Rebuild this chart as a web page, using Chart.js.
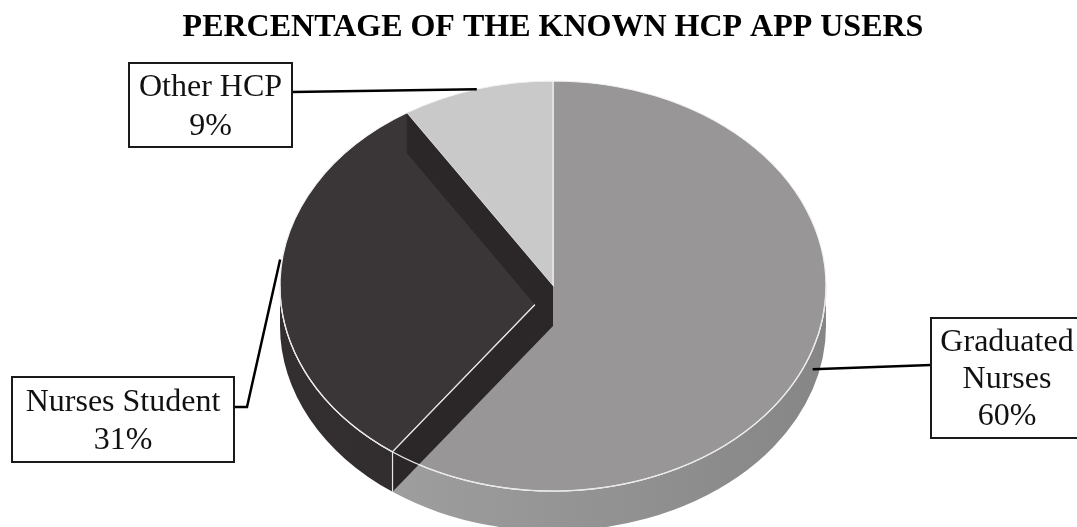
<!DOCTYPE html>
<html><head><meta charset="utf-8">
<script src="https://cdn.jsdelivr.net/npm/chart.js@4.4.0/dist/chart.umd.min.js"></script>
<style>html,body{margin:0;padding:0;background:#fff;}#wrap{width:1077px;height:527px;}</style>
</head><body><div id="wrap"><canvas id="c" width="1077" height="527"></canvas></div>
<script>
// ---- data ----
const categories = ['Graduated Nurses', 'Nurses Student', 'Other HCP'];
const labelLines = [['Graduated', 'Nurses'], ['Nurses Student'], ['Other HCP']];
const shares = [60, 31, 9];
const titleText = 'PERCENTAGE OF THE KNOWN HCP APP USERS';

// ---- style ----
const topColors = ['#989697', '#3a3537', '#c9c9c9'];
const sideColors = [['#a4a4a4', '#868686'], ['#332f31', '#2c282a'], ['#b5b5b5', '#a5a5a5']];
const wallColor = '#2b2729';
const geom = { cx: 553, cy: 286, rx: 273, ry: 205, depth: 40 };
const boxes = [
  { x: 931, y: 318, w: 152, h: 120, lh: 37, ady: 0, via: [[931, 365]] },
  { x: 12, y: 377, w: 222, h: 85, lh: 38, ady: -20, via: [[247, 407], [234, 407]] },
  { x: 129, y: 63, w: 163, h: 84, lh: 39, ady: 0, via: [[292, 92]] }
];

function rim(a, g) { return [g.cx + g.rx * Math.cos(a), g.cy + g.ry * Math.sin(a)]; }

const pie3d = {
  id: 'pie3d',
  beforeDatasetsDraw(chart) {
    const ctx = chart.ctx, g = geom, D = g.depth;
    const meta = chart.getDatasetMeta(0);
    meta.data.forEach((arc, i) => {
      const s = arc.startAngle, e = arc.endAngle;
      for (let k = -1; k <= 1; k++) {
        const lo = Math.max(s, 2 * Math.PI * k), hi = Math.min(e, 2 * Math.PI * k + Math.PI);
        if (lo < hi) {
          ctx.save();
          ctx.beginPath();
          ctx.ellipse(g.cx, g.cy, g.rx, g.ry, 0, lo, hi, false);
          ctx.ellipse(g.cx, g.cy + D, g.rx, g.ry, 0, hi, lo, true);
          ctx.closePath();
          const gr = ctx.createLinearGradient(g.cx - g.rx, 0, g.cx + g.rx, 0);
          gr.addColorStop(0, sideColors[i][0]);
          gr.addColorStop(1, sideColors[i][1]);
          ctx.fillStyle = gr;
          ctx.fill();
          ctx.restore();
        }
      }
    });
    ctx.save();
    ctx.strokeStyle = '#f4f4f4'; ctx.lineWidth = 1.2;
    ctx.beginPath(); ctx.ellipse(g.cx, g.cy, g.rx, g.ry, 0, 0, Math.PI, false); ctx.stroke();
    ctx.restore();
    const a0 = meta.data[0];
    ctx.save();
    ctx.translate(g.cx, g.cy);
    ctx.scale(g.rx / a0.outerRadius, g.ry / a0.outerRadius);
    ctx.translate(-a0.x, -a0.y);
  },
  afterDatasetsDraw(chart) {
    const ctx = chart.ctx, g = geom, D = g.depth;
    ctx.restore();
    const meta = chart.getDatasetMeta(0);
    meta.data.forEach((arc) => {
      const angs = [arc.startAngle, arc.endAngle];
      if (!angs.every(a => Math.cos(a) < -0.05)) return;
      angs.forEach(a => {
        const p = rim(a, g);
        ctx.save();
        ctx.fillStyle = wallColor;
        ctx.beginPath();
        ctx.moveTo(g.cx, g.cy); ctx.lineTo(p[0], p[1]);
        ctx.lineTo(p[0], p[1] + D); ctx.lineTo(g.cx, g.cy + D);
        ctx.closePath(); ctx.fill();
        if (Math.sin(a) > 0) {
          ctx.strokeStyle = '#e8e8e8'; ctx.lineWidth = 1.2;
          ctx.beginPath();
          ctx.moveTo(g.cx, g.cy); ctx.lineTo(p[0], p[1]); ctx.lineTo(p[0], p[1] + D);
          ctx.stroke();
          ctx.beginPath(); ctx.ellipse(g.cx, g.cy, g.rx, g.ry, 0, 0, Math.PI, false); ctx.stroke();
        }
        ctx.restore();
      });
    });
  },
  afterDraw(chart) {
    const ctx = chart.ctx, g = geom, D = g.depth;
    const meta = chart.getDatasetMeta(0);
    const total = chart.data.datasets[0].data.reduce((a, b) => a + b, 0);
    meta.data.forEach((arc, i) => {
      const b = boxes[i];
      const mid = (arc.startAngle + arc.endAngle) / 2;
      let p = rim(mid, g);
      if (Math.sin(mid) > 0) p = [p[0], p[1] + D / 2];
      p = [p[0], p[1] + b.ady];
      ctx.save();
      ctx.strokeStyle = '#000'; ctx.lineWidth = 2.5; ctx.lineJoin = 'miter';
      ctx.beginPath(); ctx.moveTo(p[0], p[1]);
      b.via.forEach(q => ctx.lineTo(q[0], q[1]));
      ctx.stroke();
      ctx.fillStyle = '#fff';
      ctx.fillRect(b.x, b.y, b.w, b.h);
      ctx.strokeStyle = '#1a1a1a'; ctx.lineWidth = 2;
      ctx.strokeRect(b.x, b.y, b.w, b.h);
      const lines = labelLines[i].concat([Math.round(chart.data.datasets[0].data[i] / total * 100) + '%']);
      ctx.fillStyle = '#111';
      ctx.font = '32px "Liberation Serif"';
      ctx.textAlign = 'center'; ctx.textBaseline = 'middle';
      const cy = b.y + b.h / 2, cx = b.x + b.w / 2;
      lines.forEach((t, j) => ctx.fillText(t, cx, cy + (j - (lines.length - 1) / 2) * b.lh + 2));
      ctx.restore();
    });
  }
};

new Chart(document.getElementById('c'), {
  type: 'pie',
  data: {
    labels: categories,
    datasets: [{
      data: shares,
      backgroundColor: topColors,
      borderColor: '#f2f2f2',
      borderWidth: 1,
      clip: false
    }]
  },
  options: {
    responsive: false,
    animation: false,
    events: [],
    layout: { padding: { left: 29, right: 0, top: 0, bottom: 0 } },
    plugins: {
      legend: { display: false },
      tooltip: { enabled: false },
      title: {
        display: true,
        text: titleText,
        color: '#000',
        font: { family: '"Liberation Serif"', size: 32, weight: 'bold' },
        padding: { top: 9, bottom: 4 }
      }
    }
  },
  plugins: [pie3d]
});
</script></body></html>
